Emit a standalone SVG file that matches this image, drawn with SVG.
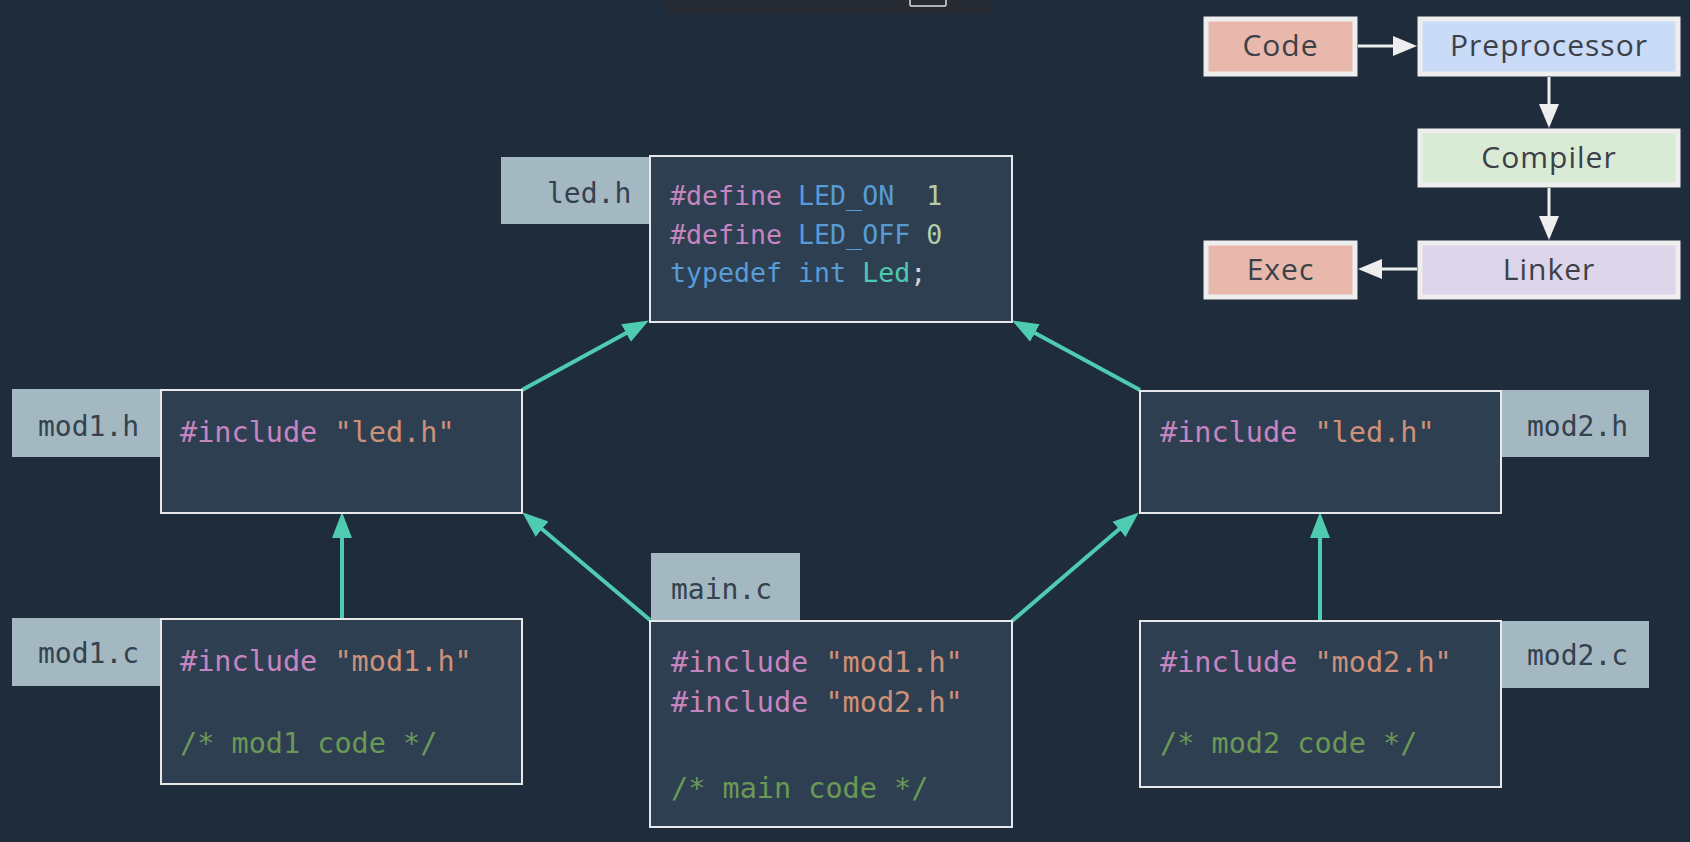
<svg xmlns="http://www.w3.org/2000/svg" width="1690" height="842" viewBox="0 0 1690 842">
<defs>
<style>
.code{fill:#2f3f52;stroke:#e6e8ea;stroke-width:2}
.lbl{fill:#a4b8c2}
.lt{font-family:"DejaVu Sans Mono",monospace;font-size:28px;fill:#34414e}
.mono{font-family:"DejaVu Sans Mono",monospace;font-size:28.5px}
.mono2{font-family:"DejaVu Sans Mono",monospace;font-size:26.6px}
.kw{fill:#c586c0}.st{fill:#ce9178}.cm{fill:#6a9955}.bl{fill:#569cd6}.tl{fill:#4ec9b0}.nm{fill:#b5cea8}.pl{fill:#d4d4d4}
.fb{stroke:#eeeeee;stroke-width:5}
.ft{font-family:"Open Sans",sans-serif;font-size:30px;fill:#3c4048;text-anchor:middle;letter-spacing:1px}
.tc{stroke:#4ecbb1;stroke-width:4;fill:none}
.wc{stroke:#eeeeee;stroke-width:3;fill:none}
</style>
<marker id="ta" markerUnits="userSpaceOnUse" markerWidth="26" markerHeight="22" refX="20" refY="11" orient="auto">
<path d="M0,1 L26,11 L0,21 z" fill="#4ecbb1"/>
</marker>
<marker id="wa" markerUnits="userSpaceOnUse" markerWidth="24" markerHeight="20" refX="20" refY="10" orient="auto">
<path d="M0,0 L24,10 L0,20 z" fill="#eeeeee"/>
</marker>
</defs>
<rect width="1690" height="842" fill="#1f2c3c"/>
<g id="topbar">
<rect x="668" y="0" width="326" height="14" fill="#262a33"/>
<rect x="910" y="-3" width="36" height="9" rx="1.5" fill="none" stroke="#e0e0e0" stroke-width="1.5"/>
</g>
<g id="connectors">
<line class="tc" x1="522" y1="390" x2="643.6" y2="323.4" marker-end="url(#ta)"/>
<line class="tc" x1="1140" y1="390" x2="1017.4" y2="323.4" marker-end="url(#ta)"/>
<line class="tc" x1="650" y1="620" x2="526.8" y2="516.2" marker-end="url(#ta)"/>
<line class="tc" x1="1012" y1="621" x2="1134.2" y2="516.3" marker-end="url(#ta)"/>
<line class="tc" x1="342" y1="619" x2="342" y2="518" marker-end="url(#ta)"/>
<line class="tc" x1="1320" y1="621" x2="1320" y2="518" marker-end="url(#ta)"/>
<line class="wc" x1="1358" y1="46" x2="1413" y2="46" marker-end="url(#wa)"/>
<line class="wc" x1="1549" y1="77" x2="1549" y2="124" marker-end="url(#wa)"/>
<line class="wc" x1="1549" y1="188" x2="1549" y2="236" marker-end="url(#wa)"/>
<line class="wc" x1="1417" y1="269" x2="1362" y2="269" marker-end="url(#wa)"/>
</g>
<g id="led_h">
<rect class="lbl" x="501" y="157" width="149" height="67"/>
<text class="lt" x="547" y="203">led.h</text>
<rect class="code" x="650" y="156" width="362" height="166"/>
<text class="mono2" x="670" y="205"><tspan class="kw">#define</tspan><tspan class="bl"> LED_ON</tspan><tspan class="nm" xml:space="preserve">  1</tspan></text>
<text class="mono2" x="670" y="244"><tspan class="kw">#define</tspan><tspan class="bl"> LED_OFF</tspan><tspan class="nm"> 0</tspan></text>
<text class="mono2" x="670" y="282"><tspan class="bl">typedef int</tspan><tspan class="tl"> Led</tspan><tspan class="pl">;</tspan></text>
</g>
<g id="mod1_h">
<rect class="lbl" x="12" y="389" width="149" height="68"/>
<text class="lt" x="38" y="436">mod1.h</text>
<rect class="code" x="161" y="390" width="361" height="123"/>
<text class="mono" x="180" y="442"><tspan class="kw">#include</tspan><tspan class="st"> "led.h"</tspan></text>
</g>
<g id="mod2_h">
<rect class="lbl" x="1501" y="390" width="148" height="67"/>
<text class="lt" x="1527" y="436">mod2.h</text>
<rect class="code" x="1140" y="391" width="361" height="122"/>
<text class="mono" x="1160" y="442"><tspan class="kw">#include</tspan><tspan class="st"> "led.h"</tspan></text>
</g>
<g id="mod1_c">
<rect class="lbl" x="12" y="618" width="149" height="68"/>
<text class="lt" x="38" y="663">mod1.c</text>
<rect class="code" x="161" y="619" width="361" height="165"/>
<text class="mono" x="180" y="671"><tspan class="kw">#include</tspan><tspan class="st"> "mod1.h"</tspan></text>
<text class="mono cm" x="180" y="753">/* mod1 code */</text>
</g>
<g id="mod2_c">
<rect class="lbl" x="1501" y="621" width="148" height="67"/>
<text class="lt" x="1527" y="665">mod2.c</text>
<rect class="code" x="1140" y="621" width="361" height="166"/>
<text class="mono" x="1160" y="672"><tspan class="kw">#include</tspan><tspan class="st"> "mod2.h"</tspan></text>
<text class="mono cm" x="1160" y="753">/* mod2 code */</text>
</g>
<g id="main_c">
<rect class="lbl" x="651" y="553" width="149" height="67"/>
<text class="lt" x="671" y="599">main.c</text>
<rect class="code" x="650" y="621" width="362" height="206"/>
<text class="mono" x="671" y="672"><tspan class="kw">#include</tspan><tspan class="st"> "mod1.h"</tspan></text>
<text class="mono" x="671" y="712"><tspan class="kw">#include</tspan><tspan class="st"> "mod2.h"</tspan></text>
<text class="mono cm" x="671" y="798">/* main code */</text>
</g>
<g id="flow_code">
<rect class="fb" x="1206" y="19" width="149" height="55" fill="#e8b8ad"/>
<text class="ft" x="1280.5" y="56">Code</text>
</g>
<g id="flow_pre">
<rect class="fb" x="1420" y="19" width="258" height="55" fill="#c9dbf7"/>
<text class="ft" x="1549" y="56">Preprocessor</text>
</g>
<g id="flow_comp">
<rect class="fb" x="1420" y="131" width="258" height="54" fill="#d9ebd5"/>
<text class="ft" x="1549" y="168">Compiler</text>
</g>
<g id="flow_link">
<rect class="fb" x="1420" y="243" width="258" height="54" fill="#ddd5ea"/>
<text class="ft" x="1549" y="280">Linker</text>
</g>
<g id="flow_exec">
<rect class="fb" x="1206" y="243" width="149" height="54" fill="#e8b8ad"/>
<text class="ft" x="1280.5" y="280">Exec</text>
</g>
</svg>
